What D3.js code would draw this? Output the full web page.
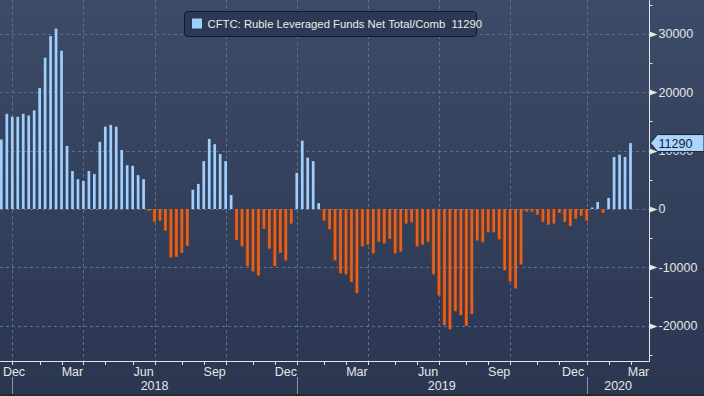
<!DOCTYPE html>
<html>
<head>
<meta charset="utf-8">
<script src="https://cdn.jsdelivr.net/npm/d3@7"></script>
<style>
  html, body { margin: 0; padding: 0; background: #2c3852; }
  svg { display: block; }
</style>
</head>
<body>
<div id="chart"></div>
<script>
// data: weekly CFTC readings, first Tuesday 2017-12-19, last 2020-03-03
var startDate = new Date(Date.UTC(2017, 11, 19));
var values = [
  11900, 16300, 15800, 15800, 16300, 16000, 16900, 20700, 25900, 29600,
  30900, 27100, 10800, 6500, 5100, 4800, 6500, 6000, 11500, 14100,
  14400, 14100, 10100, 7500, 7400, 5800, 5100, -300, -2200, -2000,
  -3700, -8300, -8200, -7500, -6300, 3300, 4300, 8200, 12000, 11100,
  9400, 8200, 2400, -5300, -6400, -9800, -10700, -11400, -3400, -6800,
  -9800, -7500, -8800, -2500, 6200, 11700, 8800, 8200, 1000, -2000,
  -3500, -8800, -11000, -11200, -12500, -14400, -6400, -6100, -7600, -5600,
  -5900, -5100, -7600, -7300, -2500, -2300, -6400, -6100, -5600, -11200,
  -14800, -19900, -20600, -17500, -18200, -20000, -18000, -5400, -5700, -4000,
  -4000, -5200, -10500, -12400, -13600, -9500, -450, -450, -1000, -2200,
  -2700, -2500, -650, -2200, -2900, -1700, -1150, -2000, 250, 1200,
  -650, 1900, 8900, 9300, 8900, 11290
];
var seriesName = "CFTC: Ruble Leveraged Funds Net Total/Comb";
var lastValue = 11290;
var majorTicks = [30000, 20000, 10000, 0, -10000, -20000];
var minorTicks = [35000, 25000, 15000, 5000, -5000, -15000, -25000];
var monthNames = ["Jan","Feb","Mar","Apr","May","Jun","Jul","Aug","Sep","Oct","Nov","Dec"];

var width = 704, height = 396;
var margin = {left: 0, right: 55, top: 0, bottom: 35};
var plotRight = width - margin.right + 0.5;   // right axis line
var plotBottom = height - margin.bottom;       // bottom axis line

var dates = values.map((v, i) => d3.utcDay.offset(startDate, i * 7));
var data = values.map((v, i) => ({i: i, date: dates[i], value: v}));

var svg = d3.select("#chart").append("svg")
  .attr("width", width).attr("height", height)
  .attr("viewBox", [0, 0, width, height]);

var defs = svg.append("defs");
var grad = defs.append("linearGradient").attr("id", "bg")
  .attr("x1", 0).attr("x2", 0).attr("y1", 0).attr("y2", 1);
grad.append("stop").attr("offset", "0%").attr("stop-color", "#3c4b67");
grad.append("stop").attr("offset", "100%").attr("stop-color", "#2b3651");

svg.append("rect").attr("width", width).attr("height", height).attr("fill", "url(#bg)");
svg.append("rect").attr("y", height - 2).attr("width", width).attr("height", 2).attr("fill", "#2a2a2e");

// scales
var x = d3.scaleLinear().domain([0, values.length - 1]).range([1.35, 630.5]);
var y = d3.scaleLinear().domain([-26030, 35790]).range([plotBottom, 0]);
var barW = 2.7;

// month boundaries (first bar of each month)
var monthStarts = [];
data.forEach((d, k) => {
  if (k === 0) return;
  if (d.date.getUTCMonth() !== data[k - 1].date.getUTCMonth()) monthStarts.push(d);
});

var grid = svg.append("g").attr("stroke", "#5d7190").attr("stroke-width", 1)
  .attr("stroke-dasharray", "3,3");
grid.selectAll(".h").data(majorTicks).join("line")
  .attr("x1", 0).attr("x2", plotRight)
  .attr("y1", d => Math.round(y(d)) + 0.5).attr("y2", d => Math.round(y(d)) + 0.5);
grid.selectAll(".v").data(monthStarts.filter(d => d.date.getUTCMonth() % 3 === 0)).join("line")
  .attr("x1", d => Math.round(x(d.i)) + 0.5).attr("x2", d => Math.round(x(d.i)) + 0.5)
  .attr("y1", 0).attr("y2", plotBottom);

// bars
var pos = "#9fcfff", neg = "#e6611c";
svg.append("g").selectAll("rect.shadow").data(data.filter(d => d.value < 0)).join("rect")
  .attr("x", d => x(d.i) - barW / 2 - 1)
  .attr("width", 1.2)
  .attr("y", y(0))
  .attr("height", d => y(d.value) - y(0))
  .attr("fill", "#7a3517");
svg.append("g").selectAll("rect").data(data).join("rect")
  .attr("x", d => x(d.i) - barW / 2)
  .attr("width", barW)
  .attr("y", d => y(Math.max(0, d.value)))
  .attr("height", d => Math.abs(y(d.value) - y(0)))
  .attr("fill", d => d.value >= 0 ? pos : neg);

// axes
var axisColor = "#e6e6e6";
var font = "'Liberation Sans', Arial, sans-serif";
svg.append("line").attr("x1", 0).attr("x2", plotRight)
  .attr("y1", plotBottom + 0.5).attr("y2", plotBottom + 0.5).attr("stroke", axisColor);
svg.append("line").attr("x1", plotRight).attr("x2", plotRight)
  .attr("y1", 0).attr("y2", plotBottom + 0.5).attr("stroke", axisColor);

// right axis ticks and labels
svg.append("g").selectAll("line").data(minorTicks).join("line")
  .attr("x1", plotRight).attr("x2", plotRight + 3)
  .attr("y1", d => Math.round(y(d)) + 0.5).attr("y2", d => Math.round(y(d)) + 0.5)
  .attr("stroke", axisColor);
svg.append("g").selectAll("path").data(majorTicks).join("path")
  .attr("d", d => { var yy = Math.round(y(d)) + 0.5; return `M${plotRight},${yy - 3}L${plotRight + 8},${yy}L${plotRight},${yy + 3}Z`; })
  .attr("fill", axisColor);
svg.append("g").selectAll("text").data(majorTicks).join("text")
  .attr("x", plotRight + 9)
  .attr("y", d => y(d) + 4.5)
  .attr("font-family", font).attr("font-size", 12.5).attr("fill", axisColor)
  .text(d => d);

// bottom month ticks
svg.append("g").selectAll("line").data(monthStarts).join("line")
  .attr("x1", d => Math.round(x(d.i)) + 0.5).attr("x2", d => Math.round(x(d.i)) + 0.5)
  .attr("y1", plotBottom).attr("y2", plotBottom + 4)
  .attr("stroke", axisColor);

// month labels (quarter months), centred in their month span
var labelMonths = [];
var firstM = dates[0].getUTCMonth();
if (firstM % 3 === 2) labelMonths.push({month: firstM, start: 0, end: x(monthStarts[0].i)});
monthStarts.forEach((d, k) => {
  var m = d.date.getUTCMonth();
  if (m % 3 !== 2) return;
  var end = k + 1 < monthStarts.length ? x(monthStarts[k + 1].i) : plotRight - 3;
  labelMonths.push({month: m, start: x(d.i), end: end});
});
svg.append("g").selectAll("text").data(labelMonths).join("text")
  .attr("x", d => Math.max((d.start + d.end) / 2, 14))
  .attr("y", plotBottom + 15)
  .attr("text-anchor", "middle")
  .attr("font-family", font).attr("font-size", 12.5).attr("fill", axisColor)
  .text(d => monthNames[d.month]);

// years
var yearStarts = monthStarts.filter(d => d.date.getUTCMonth() === 0);
svg.append("g").selectAll("line").data(yearStarts).join("line")
  .attr("x1", d => Math.round(x(d.i)) + 0.5).attr("x2", d => Math.round(x(d.i)) + 0.5)
  .attr("y1", plotBottom + 16).attr("y2", height - 2)
  .attr("stroke", "#8a94a6");
svg.append("g").selectAll("text").data(yearStarts).join("text")
  .attr("x", (d, k) => (x(d.i) + (k + 1 < yearStarts.length ? x(yearStarts[k + 1].i) : plotRight)) / 2)
  .attr("y", height - 6)
  .attr("text-anchor", "middle")
  .attr("font-family", font).attr("font-size", 12.5).attr("fill", axisColor)
  .text(d => d.date.getUTCFullYear());

// last value tag
var ty = y(lastValue);
svg.append("path")
  .attr("d", `M${plotRight + 1},${ty}L${plotRight + 8},${ty - 8.5}L${width},${ty - 8.5}L${width},${ty + 8.5}L${plotRight + 8},${ty + 8.5}Z`)
  .attr("fill", "#a9d5ff").attr("stroke", "#1d2433").attr("stroke-width", 1);
svg.append("text").attr("x", plotRight + 9).attr("y", ty + 4.5)
  .attr("font-family", font).attr("font-size", 12.5).attr("fill", "#1a2030")
  .text(lastValue);

// legend
var legend = svg.append("g").attr("transform", "translate(184.5,11.5)");
legend.append("rect").attr("width", 292).attr("height", 25).attr("rx", 3)
  .attr("fill", "#2d3954").attr("stroke", "#151a26");
legend.append("rect").attr("x", 7.5).attr("y", 7).attr("width", 10).attr("height", 10).attr("fill", pos);
legend.append("text").attr("x", 23).attr("y", 16.5)
  .attr("font-family", font).attr("font-size", 11.3).attr("fill", "#ececec")
  .attr("xml:space", "preserve")
  .text(seriesName + "  " + lastValue);
</script>
</body>
</html>
